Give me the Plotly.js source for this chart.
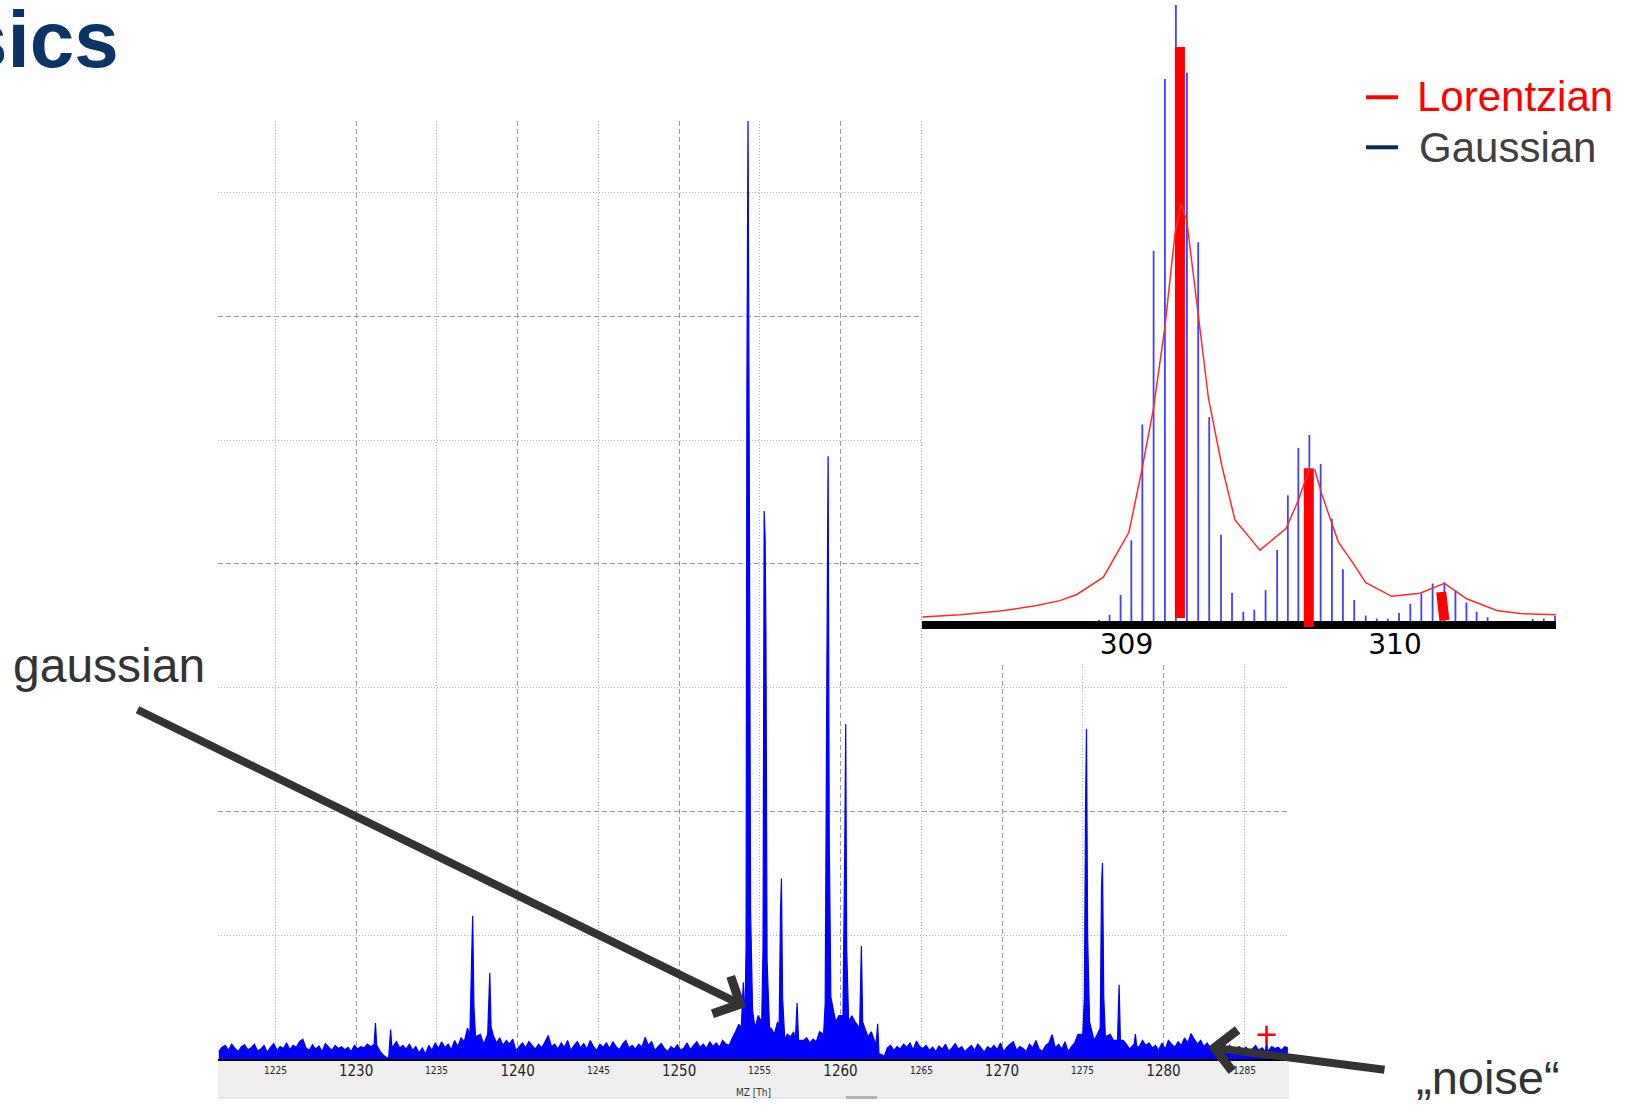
<!DOCTYPE html>
<html><head><meta charset="utf-8">
<script src="https://cdn.plot.ly/plotly-3.0.1.min.js"></script>
<style>html,body{margin:0;padding:0;background:#fff;}#chart{width:1627px;height:1108px;}</style>
</head><body><div id="chart"></div>
<script>
const W = 1627, H = 1108;

// ---------- main spectrum (m/z 1221.5 .. 1287.7, sampled every 0.2 Th) ----------
const noiseStartMz = 1221.5;
const noiseStepMz = 0.2;
const noiseIntensity = [
  60, 95, 110, 70, 120, 85, 60, 100, 115, 75,
  90, 120, 65, 80, 110, 55, 95, 125, 70, 100,
  85, 130, 75, 110, 95, 140, 160, 90, 70, 115,
  80, 105, 60, 125, 95, 70, 110, 85, 100, 75,
  95, 60, 110, 80, 100, 90, 120, 100, 130, 110,
  60, 30, 10, 160, 120, 140, 90, 110, 80, 120,
  70, 100, 50, 90, 40, 110, 70, 130, 85, 140,
  90, 120, 75, 150, 100, 170, 140, 250, 300, 300,
  160, 200, 120, 180, 150, 190, 130, 170, 110, 150,
  120, 160, 70, 100, 130, 90, 140, 110, 80, 120,
  90, 140, 190, 100, 120, 80, 130, 95, 150, 70,
  110, 140, 90, 125, 80, 150, 100, 70, 120, 95,
  130, 85, 140, 100, 75, 120, 150, 90, 110, 80,
  120, 95, 175, 110, 140, 70, 100, 125, 85, 60,
  100, 80, 115, 70, 90, 130, 75, 110, 140, 95,
  120, 85, 140, 100, 130, 95, 150, 120, 110, 170,
  220, 280, 350, 300, 600, 500, 400, 350, 300, 600,
  350, 250, 200, 300, 250, 300, 200, 180, 220, 250,
  200, 150, 170, 130, 160, 140, 220, 300, 500, 1000,
  400, 300, 350, 250, 300, 280, 350, 300, 250, 200,
  250, 180, 220, 150, 200, 40, 20, 90, 110, 70,
  100, 80, 120, 95, 130, 75, 145, 100, 85, 110,
  70, 95, 60, 105, 80, 120, 65, 90, 124, 80,
  100, 60, 85, 110, 70, 120, 90, 55, 100, 80,
  110, 75, 130, 60, 95, 120, 140, 70, 100, 85,
  60, 120, 90, 150, 80, 60, 110, 130, 197, 90,
  120, 80, 140, 60, 100, 130, 200, 300, 400, 400,
  250, 150, 200, 120, 250, 300, 200, 150, 200, 250,
  150, 120, 80, 90, 215, 100, 150, 110, 130, 90,
  110, 70, 130, 80, 150, 120, 95, 140, 110, 170,
  130, 205, 160, 120, 150, 100, 130, 90, 120, 140,
  100, 130, 80, 110, 60, 90, 100, 70, 95, 60,
  80, 110, 70, 90, 60, 120, 100, 85, 95, 70, 100, 90
];

// isotope peak profiles (m/z, intensity)
const peakMz = [
  1231.12, 1231.2, 1231.28,
  1232.02, 1232.14, 1232.22,
  1237.05, 1237.15, 1237.22, 1237.3, 1237.4,
  1238.15, 1238.23, 1238.28, 1238.36,
  1253.85, 1253.98, 1254.08, 1254.15, 1254.2, 1254.27, 1254.35, 1254.43, 1254.55, 1254.7,
  1255.12, 1255.2, 1255.27, 1255.33, 1255.38, 1255.45, 1255.6,
  1256.2, 1256.28, 1256.34, 1256.41, 1256.55,
  1257.2, 1257.31, 1257.4,
  1258.95, 1259.05, 1259.15, 1259.23, 1259.3, 1259.4,
  1260.15, 1260.26, 1260.32, 1260.38, 1260.5,
  1261.18, 1261.29, 1261.37,
  1262.2, 1262.3, 1262.38,
  1275.0, 1275.1, 1275.17, 1275.23, 1275.3, 1275.42,
  1276.08, 1276.16, 1276.22, 1276.3, 1276.4,
  1277.15, 1277.25, 1277.33,
  1278.18, 1278.26, 1278.34,
  1286.32, 1286.38, 1286.44
];
const peakIntensity = [
  120, 290, 110,
  10, 237, 90,
  200, 780, 1157, 420, 180,
  200, 511, 696, 260,
  250, 620, 300, 900, 5372, 7577, 4744, 1200, 400, 250,
  300, 900, 4426, 4200, 3440, 800, 250,
  250, 1182, 1458, 500, 150,
  150, 453, 150,
  200, 450, 3067, 4869, 1800, 500,
  350, 1685, 2707, 900, 300,
  250, 913, 300,
  120, 285, 40,
  200, 500, 2020, 2665, 1000, 300,
  250, 1389, 1584, 500, 180,
  150, 600, 150,
  120, 202, 100,
  60, 168, 60
];
const markerMz = [1286.38];
const markerIntensity = [195];

// tick labels of the main m/z axis
const majorTicks = [1230, 1240, 1250, 1260, 1270, 1280];
const minorTicks = [1225, 1235, 1245, 1255, 1265, 1275, 1285];

// ---------- inset: zoom on m/z 309-310 ----------
const gaussMz = [308.898, 308.937, 308.978, 309.018, 309.059, 309.101, 309.143, 309.184, 309.225, 309.267,
  309.308, 309.352, 309.393, 309.435, 309.476, 309.518, 309.561, 309.601, 309.640, 309.681,
  309.723, 309.765, 309.806, 309.848, 309.891, 309.932, 309.973, 310.015, 310.057, 310.098,
  310.140, 310.184, 310.225, 310.266, 310.304, 310.345, 310.513, 310.554, 310.596];
const gaussInt = [0.2, 1.0, 4.2, 13.1, 31.9, 60.1, 88.0, 100, 89.0, 61.5,
  33.1, 14.0, 4.6, 1.5, 1.8, 5.0, 11.5, 20.4, 28.1, 30.2,
  25.5, 16.6, 8.4, 3.4, 0.9, 0.4, 0.4, 1.3, 2.8, 4.5,
  6.1, 6.3, 5.0, 3.0, 1.5, 0.6, 0.3, 0.4, 0.8];
const lorentzMz = [308.24, 308.380, 308.529, 308.666, 308.752, 308.815, 308.914, 309.009, 309.057, 309.100,
  309.143, 309.181, 309.203, 309.224, 309.267, 309.305, 309.355, 309.404, 309.497, 309.594,
  309.640, 309.681, 309.702, 309.727, 309.789, 309.845, 309.891, 309.988, 310.093, 310.184,
  310.267, 310.379, 310.466, 310.6];
const lorentzInt = [0.65, 1.0, 1.6, 2.5, 3.3, 4.3, 7.1, 14.4, 24.5, 34.4,
  47.7, 63.0, 67.7, 65.1, 49.8, 36.2, 25.2, 16.4, 11.5, 15.0,
  19.6, 24.7, 24.5, 20.6, 12.8, 9.3, 6.2, 4.0, 4.5, 6.1,
  3.6, 1.7, 1.2, 1.0];
const lorentzBarBaseMz = [309.199, 309.679, 310.184];
const lorentzBarTopMz = [309.199, 309.679, 310.172];
const lorentzBarBase = [0.5, -1.0, 0.1];
const lorentzBarTop = [93.2, 24.8, 4.7];
const insetTicks = [309, 310];

// ---------- build traces ----------
const pts = [];
noiseIntensity.forEach((v, i) => {
  const mz = +(noiseStartMz + i * noiseStepMz).toFixed(2);
  if (!peakMz.some(p => Math.abs(p - mz) < 0.1)) pts.push([mz, v]);
});
peakMz.forEach((m, i) => pts.push([m, peakIntensity[i]]));
pts.sort((a, b) => a[0] - b[0]);

const spectrum = {
  type: 'scatter', mode: 'lines', x: pts.map(p => p[0]), y: pts.map(p => p[1]),
  line: {color: '#0000ff', width: 1.2, simplify: false}, fill: 'tozeroy', fillcolor: '#0000ff',
  xaxis: 'x', yaxis: 'y', hoverinfo: 'skip', showlegend: false
};
const marker = {
  type: 'scatter', mode: 'markers', x: markerMz, y: markerIntensity,
  marker: {symbol: 'cross-thin', size: 13, line: {color: '#ff0000', width: 2.5}},
  xaxis: 'x', yaxis: 'y', hoverinfo: 'skip', showlegend: false
};

const gx = [], gy = [];
gaussMz.forEach((m, i) => { gx.push(m, m, null); gy.push(0, gaussInt[i], null); });
const gauss = {
  type: 'scatter', mode: 'lines', x: gx, y: gy, name: 'Gaussian',
  line: {color: 'rgba(30,30,255,0.85)', width: 1.8}, xaxis: 'x2', yaxis: 'y2', hoverinfo: 'skip', showlegend: false
};
const bx = [], by = [];
lorentzBarBaseMz.forEach((m, i) => { bx.push(m, lorentzBarTopMz[i], null); by.push(lorentzBarBase[i], lorentzBarTop[i], null); });
const lorBars = {
  type: 'scatter', mode: 'lines', x: bx, y: by,
  line: {color: '#ff0000', width: 10}, xaxis: 'x2', yaxis: 'y2', hoverinfo: 'skip', showlegend: false
};
const lorLine = {
  type: 'scatter', mode: 'lines', x: lorentzMz, y: lorentzInt, name: 'Lorentzian',
  line: {color: '#ff2a2a', width: 1.5}, xaxis: 'x2', yaxis: 'y2', hoverinfo: 'skip', showlegend: false
};

// ---------- layout helpers (pixel -> paper) ----------
const px = v => v / W;
const py = v => 1 - v / H;

const narrow = 'Liberation Sans Narrow, DejaVu Sans Condensed, sans-serif';
const arial = 'Liberation Sans, Arial, sans-serif';

const annotations = [];
minorTicks.forEach(t => annotations.push({
  x: t, xref: 'x', y: py(1070), yref: 'paper', text: String(t), showarrow: false,
  xanchor: 'center', yanchor: 'middle', borderpad: 0, font: {family: narrow, size: 10, color: '#222'}
}));
annotations.push(
  {x: px(120), y: py(40), xref: 'paper', yref: 'paper', text: 'sics', showarrow: false, xanchor: 'right', yanchor: 'middle',
   borderpad: 0, font: {family: arial, size: 80, weight: 700, color: '#0b3567'}},
  {x: px(12), y: py(665), xref: 'paper', yref: 'paper', text: 'gaussian', showarrow: false, xanchor: 'left', yanchor: 'middle',
   borderpad: 0, font: {family: arial, size: 48, color: '#333333'}},
  {x: px(1415), y: py(1077), xref: 'paper', yref: 'paper', text: '\u201Enoise\u201C', showarrow: false, xanchor: 'left', yanchor: 'middle',
   borderpad: 0, font: {family: arial, size: 47, color: '#333333'}},
  {x: px(1416), y: py(96), xref: 'paper', yref: 'paper', text: 'Lorentzian', showarrow: false, xanchor: 'left', yanchor: 'middle',
   borderpad: 0, font: {family: arial, size: 42, color: '#ff0000'}},
  {x: px(1418), y: py(147.5), xref: 'paper', yref: 'paper', text: 'Gaussian', showarrow: false, xanchor: 'left', yanchor: 'middle',
   borderpad: 0, font: {family: arial, size: 42, color: '#404040'}},
  {x: px(746), y: py(1007), xref: 'paper', yref: 'paper', text: '', showarrow: true, ax: -610, ay: -298,
   arrowhead: 4, arrowsize: 1, arrowwidth: 8, arrowcolor: '#333333', standoff: 0},
  {x: px(1208), y: py(1047), xref: 'paper', yref: 'paper', text: '', showarrow: true, ax: 178, ay: 23,
   arrowhead: 4, arrowsize: 1, arrowwidth: 8, arrowcolor: '#333333', standoff: 0}
);

const shapes = [
  // grey axis band under the spectrum
  {type: 'rect', xref: 'paper', yref: 'paper', x0: px(218), x1: px(1289), y0: py(1098), y1: py(1060),
   fillcolor: '#efefef', line: {width: 0}, layer: 'below'},
  {type: 'line', xref: 'paper', yref: 'paper', x0: px(218), x1: px(1289), y0: py(1098), y1: py(1098),
   line: {color: '#d6d6d6', width: 1}, layer: 'below'},
  {type: 'rect', xref: 'paper', yref: 'paper', x0: px(846), x1: px(877), y0: py(1099), y1: py(1096),
   fillcolor: '#b4b4b4', line: {width: 0}, layer: 'below'},
  // white area behind the inset
  {type: 'rect', xref: 'x', yref: 'y', x0: 1265.08, x1: 1290, y0: 3190, y1: 9000,
   fillcolor: '#ffffff', line: {width: 0}, layer: 'between'},
  // inset baseline
  {type: 'line', xref: 'x2', yref: 'y2', x0: 308.2384, x1: 310.5996, y0: -0.65, y1: -0.65,
   line: {color: '#000000', width: 8}, layer: 'between'},
  // legend line keys
  {type: 'line', xref: 'paper', yref: 'paper', x0: px(1366), x1: px(1398), y0: py(97.3), y1: py(97.3),
   line: {color: '#ff0000', width: 4}},
  {type: 'line', xref: 'paper', yref: 'paper', x0: px(1366), x1: px(1398), y0: py(147.3), y1: py(147.3),
   line: {color: '#0c2a50', width: 4}}
];

const layout = {
  width: W, height: H, autosize: false,
  margin: {l: 0, r: 0, t: 0, b: 0, pad: 0},
  paper_bgcolor: '#ffffff', plot_bgcolor: '#ffffff',
  showlegend: false, hovermode: false,
  xaxis: {
    domain: [px(218), px(1289)], range: [1221.45, 1287.77], anchor: 'y',
    tickmode: 'array', tickvals: majorTicks, ticktext: majorTicks.map(String),
    ticks: '', ticklabelstandoff: -3, showline: true, linecolor: '#000000', linewidth: 2, zeroline: false,
    showgrid: true, gridcolor: '#9a9a9a', gridwidth: 1, griddash: '5px,3px',
    minor: {tickmode: 'array', tickvals: minorTicks, showgrid: true, gridcolor: '#b0b0b0', gridwidth: 1, griddash: '1px,2px', ticks: ''},
    tickfont: {family: narrow, size: 15, color: '#222'},
    title: {text: 'MZ [Th]', font: {family: narrow, size: 10, color: '#333'}, standoff: 10},
    automargin: false, fixedrange: true
  },
  yaxis: {
    domain: [py(1059), py(121)], range: [0, 7577], anchor: 'x',
    tickmode: 'linear', tick0: 0, dtick: 2000, showticklabels: false, ticks: '',
    showline: false, zeroline: false,
    showgrid: true, gridcolor: '#9a9a9a', gridwidth: 1, griddash: '5px,3px',
    minor: {tickmode: 'linear', tick0: 0, dtick: 1000, showgrid: true, gridcolor: '#b0b0b0', gridwidth: 1, griddash: '1px,2px', ticks: ''},
    automargin: false, fixedrange: true
  },
  xaxis2: {
    domain: [px(922), px(1556)], range: [308.2384, 310.5996], anchor: 'y2',
    tickmode: 'array', tickvals: insetTicks, ticktext: insetTicks.map(String), ticks: '', ticklabelstandoff: -5,
    showgrid: false, zeroline: false, showline: false,
    tickfont: {family: 'DejaVu Sans, sans-serif', size: 28, color: '#000'},
    automargin: false, fixedrange: true
  },
  yaxis2: {
    domain: [py(630.2), 1], range: [-1.5, 100.81], anchor: 'x2', visible: false, fixedrange: true
  },
  shapes: shapes,
  annotations: annotations
};

Plotly.newPlot('chart', [spectrum, marker, gauss, lorBars, lorLine], layout, {displayModeBar: false, staticPlot: true});
</script>
</body></html>
